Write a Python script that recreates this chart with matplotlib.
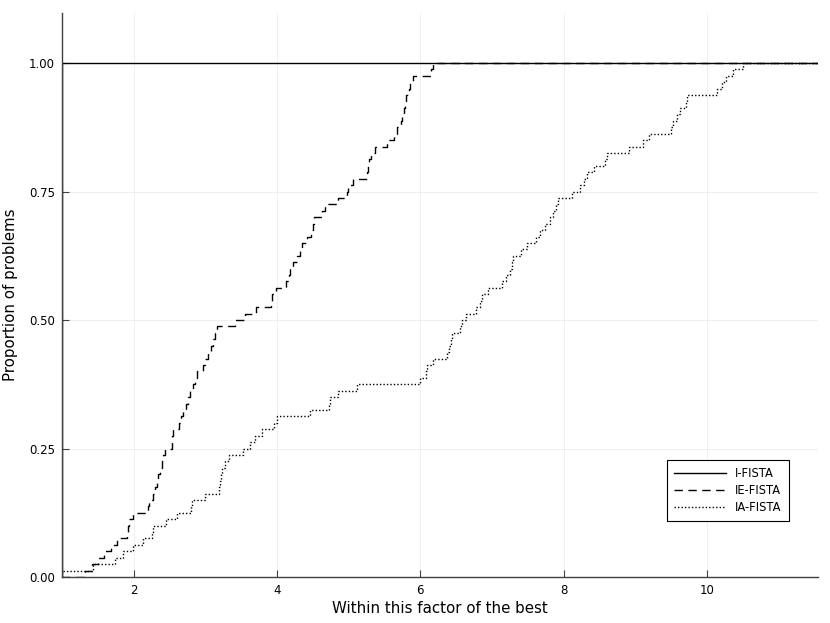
import matplotlib.pyplot as plt
import numpy as np

plt.rcParams['font.family'] = ['DejaVu Sans']

# performance ratios per problem (80 problems)
i_fista = [1.0] * 80

ie_fista = [1.316, 1.413, 1.497, 1.581, 1.679, 1.762, 1.902, 1.916, 1.930, 1.986,
            2.195, 2.209, 2.265, 2.293, 2.321, 2.335, 2.363, 2.390, 2.404, 2.432,
            2.530, 2.537, 2.544, 2.628, 2.656, 2.684, 2.726, 2.754, 2.782, 2.824,
            2.851, 2.879, 2.963, 2.991, 3.033, 3.075, 3.103, 3.131, 3.159, 3.410,
            3.550, 3.703, 3.913, 3.927, 3.982, 4.122, 4.164, 4.178, 4.220, 4.276,
            4.317, 4.345, 4.415, 4.471, 4.499, 4.513, 4.624, 4.666, 4.848, 4.973,
            4.987, 5.057, 5.252, 5.266, 5.280, 5.308, 5.364, 5.532, 5.629, 5.671,
            5.727, 5.741, 5.769, 5.783, 5.797, 5.839, 5.853, 5.895, 6.146, 6.174]

ia_fista = [1.000, 1.427, 1.734, 1.846, 1.986, 2.125, 2.251, 2.265, 2.446, 2.600,
            2.795, 2.809, 2.991, 3.186, 3.200, 3.214, 3.228, 3.270, 3.326, 3.521,
            3.619, 3.689, 3.786, 3.954, 3.996, 4.457, 4.722, 4.736, 4.848, 5.113,
            5.993, 6.076, 6.090, 6.174, 6.369, 6.397, 6.425, 6.439, 6.551, 6.579,
            6.635, 6.774, 6.830, 6.858, 6.942, 7.137, 7.193, 7.249, 7.277, 7.291,
            7.403, 7.486, 7.612, 7.668, 7.738, 7.807, 7.849, 7.891, 7.919, 8.114,
            8.226, 8.282, 8.324, 8.421, 8.575, 8.603, 8.910, 9.106, 9.190, 9.497,
            9.525, 9.581, 9.623, 9.707, 9.721, 10.140, 10.210, 10.266, 10.363, 10.503]

labels = ["I-FISTA", "IE-FISTA", "IA-FISTA"]
styles = ["-", (0, (6, 4)), (0, (1, 1.5))]
xmax = 11.55

fig = plt.figure(figsize=(8.3, 6.23), dpi=100)
ax = fig.add_axes([0.0747, 0.0738, 0.911, 0.905])

for ratios, lab, ls in zip([i_fista, ie_fista, ia_fista], labels, styles):
    r = np.sort(ratios)
    n = len(r)
    prop = np.arange(1, n + 1) / n
    xs = np.r_[1.0, r, xmax]
    ys = np.r_[0.0, prop, prop[-1]]
    ax.step(xs, ys, where='post', color='black', linestyle=ls, linewidth=1.0, label=lab)

ax.set_xlim(1.0, xmax)
ax.set_ylim(0, 1.097)
ax.set_xticks([2, 4, 6, 8, 10])
ax.set_yticks([0, 0.25, 0.5, 0.75, 1.0])
ax.set_yticklabels(["0.00", "0.25", "0.50", "0.75", "1.00"])
ax.grid(True, color='#ececec', linewidth=0.6)
ax.set_axisbelow(True)
for s in ['top', 'right']:
    ax.spines[s].set_visible(False)
for s in ['left', 'bottom']:
    ax.spines[s].set_color('#404040')
    ax.spines[s].set_linewidth(1.0)
ax.tick_params(direction='in', length=5, width=0.8, color='#404040', labelsize=8.5, pad=5)
ax.set_xlabel("Within this factor of the best", fontsize=10.8, labelpad=3)
ax.set_ylabel("Proportion of problems", fontsize=10.8, labelpad=8)

leg = ax.legend(loc='lower right', bbox_to_anchor=(0.9685, 0.0887), fontsize=8.3,
                fancybox=False, edgecolor='black', framealpha=1, handlelength=4.5,
                borderpad=0.6, labelspacing=0.35)
leg.get_frame().set_linewidth(0.8)

fig.savefig("out.png", dpi=100)
